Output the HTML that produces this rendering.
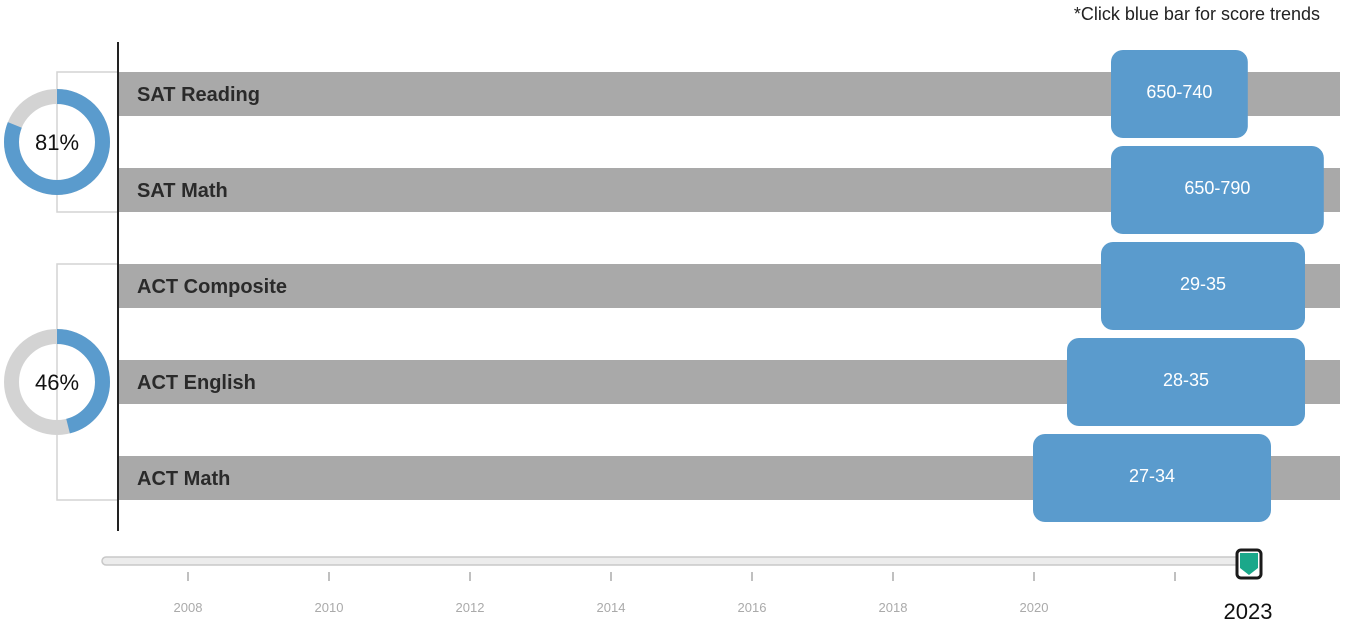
<!DOCTYPE html>
<html><head><meta charset="utf-8"><style>
body{margin:0;background:#fff;width:1360px;height:637px;overflow:hidden;font-family:"Liberation Sans",sans-serif}
svg{display:block}
</style></head><body>
<svg id="chart" width="1360" height="637">
<text x="1320" y="20" text-anchor="end" font-size="18" fill="#222">*Click blue bar for score trends</text>
</svg>
<script>
const tests=["SAT Reading","SAT Math","ACT Composite","ACT English","ACT Math"];
const testKinds=["SAT","SAT","ACT","ACT","ACT"];
const lowScores=[650,650,29,28,27];
const highScores=[740,790,35,35,34];
const groupPcts=[81,46];
const yearTicks=[2008,2010,2012,2014,2016,2018,2020,2022];
const selectedYear=2023;

const NS="http://www.w3.org/2000/svg";
const svg=document.getElementById('chart');
function mk(t,a,p){const e=document.createElementNS(NS,t);for(const k in a)e.setAttribute(k,a[k]);(p||svg).appendChild(e);return e;}
const xSAT=s=>1111+(s-650)*1.52;
const xACT=s=>1305+(s-35)*34;
const rowY=i=>94+i*96;
const xYear=y=>188+(y-2008)*70.5;

[[72,212],[264,500]].forEach((b,i)=>{
  const g=mk('path',{d:`M118 ${b[0]}H57V${b[1]}H118`,fill:'none',stroke:'#d3d3d3','stroke-width':1.5});
  
  
});
const ax=mk('line',{x1:118,y1:42,x2:118,y2:531,stroke:'#222','stroke-width':2});



tests.forEach((t,i)=>{
  const y=rowY(i);
  const g=mk('rect',{x:119,y:y-22,width:1221,height:44,fill:'#a9a9a9'});
  
  
  const lb=mk('text',{x:137,y:y+7,'font-size':20,'font-weight':'bold',fill:'#2a2a2a'});
  lb.textContent=t;
  
  
  const f=testKinds[i]==="SAT"?xSAT:xACT;
  const x1=f(lowScores[i]),x2=f(highScores[i]);
  const b=mk('rect',{x:x1,y:y-44,width:x2-x1,height:88,rx:12,fill:'#5a9bcd'});
  
  
  b.style.cursor='pointer';
  const tx=mk('text',{x:(x1+x2)/2,y:y+4,'text-anchor':'middle','font-size':18,fill:'#fff'});
  tx.textContent=lowScores[i]+'-'+highScores[i];
  
  
});

[142,382].forEach((cy,i)=>{
  const r=45.5,c=2*Math.PI*r;
  const bg=mk('circle',{cx:57,cy:cy,r:r,fill:'none',stroke:'#d3d3d3','stroke-width':15});
  
  
  const fg=mk('circle',{cx:57,cy:cy,r:r,fill:'none',stroke:'#5a9bcd','stroke-width':15,
    'stroke-dasharray':`${c*groupPcts[i]/100} ${c}`,transform:`rotate(-90 57 ${cy})`});
  
  
  const t=mk('text',{x:57,y:cy+8,'text-anchor':'middle','font-size':22,fill:'#111'});
  t.textContent=groupPcts[i]+'%';
  
  
});

const tr=mk('rect',{x:102,y:557,width:1150,height:8,rx:4,fill:'#ececec',stroke:'#c8c8c8','stroke-width':1.5});


yearTicks.forEach(y=>{
  const x=xYear(y);
  const l=mk('line',{x1:x,y1:572,x2:x,y2:581,stroke:'#aaa','stroke-width':1.5});
  
  
  if(y<=2020){
    const t=mk('text',{x:x,y:612,'text-anchor':'middle','font-size':13,fill:'#aaa'});
    t.textContent=y;
    
    
  }
});
const hx=xYear(selectedYear)+3.5;
const h=mk('rect',{x:hx-12,y:550,width:24,height:28,rx:4,fill:'#fff',stroke:'#1a1a1a','stroke-width':3});


const hp=mk('path',{d:`M${hx-9} 553H${hx+9}V568L${hx} 575L${hx-9} 568Z`,fill:'#1aa88a'});


const yl=mk('text',{x:hx-1,y:619,'text-anchor':'middle','font-size':22,fill:'#111'});
yl.textContent=selectedYear;


</script>
</body></html>
